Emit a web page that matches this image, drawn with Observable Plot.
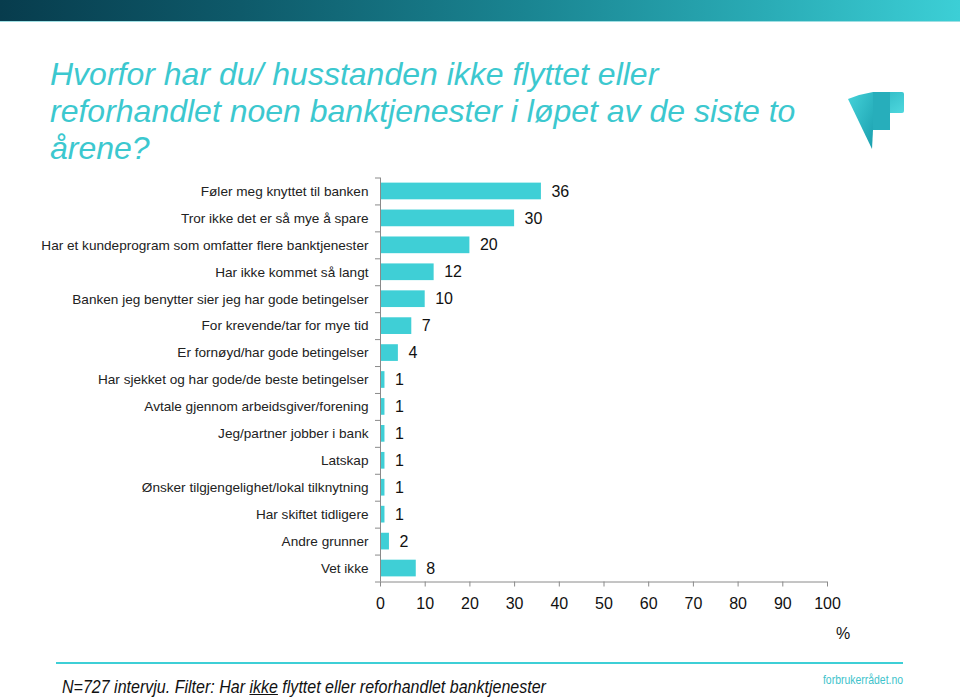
<!DOCTYPE html>
<html>
<head>
<meta charset="utf-8">
<script src="https://cdn.jsdelivr.net/npm/d3@7"></script>
<script src="https://cdn.jsdelivr.net/npm/@observablehq/plot@0.6"></script>
<style>
  html, body { margin: 0; padding: 0; background: #fff; }
  #page { position: relative; width: 960px; height: 699px; overflow: hidden; font-family: "Liberation Sans", Arial, sans-serif; }
  #topbar { position: absolute; left: 0; top: 0; width: 960px; height: 21px;
    background: linear-gradient(to right, #073c4d 0%, #0e5a6a 25%, #1a8592 55%, #2aacb6 80%, #3ccfd6 100%);
    border-bottom: 1px solid #9fdfe3; }
  #title { position: absolute; left: 50px; top: 56px; width: 840px; font-style: italic; font-size: 32px; line-height: 37px; color: #3cc8cf; white-space: nowrap; }
  #logo { position: absolute; left: 840px; top: 86px; }
  #chart { position: absolute; left: 0; top: 160px; }
  #pct { position: absolute; left: 836px; top: 625px; font-size: 16px; color: #111; }
  #rule { position: absolute; left: 56px; top: 662px; width: 847px; height: 2px; background: #3ecfd6; }
  #note { position: absolute; left: 62px; top: 677px; font-style: italic; font-size: 18px; color: #111; white-space: nowrap; transform: scaleX(0.89); transform-origin: left top; }
  #site { position: absolute; right: 57px; top: 673px; font-size: 12px; color: #3ec3cb; white-space: nowrap; transform: scaleX(0.87); transform-origin: right top; }
</style>
</head>
<body>
<div id="page">
  <div id="topbar"></div>
  <div id="title">Hvorfor har du/ husstanden ikke flyttet eller<br>reforhandlet noen banktjenester i løpet av de siste to<br>årene?</div>
  <svg id="logo" width="70" height="70" viewBox="0 0 70 70">
    <defs>
      <linearGradient id="lg1" x1="0" y1="0" x2="1" y2="1">
        <stop offset="0" stop-color="#45d3da"/>
        <stop offset="1" stop-color="#1a9fae"/>
      </linearGradient>
      <linearGradient id="lg2" x1="0" y1="0" x2="1" y2="1">
        <stop offset="0" stop-color="#2bb6c2"/>
        <stop offset="1" stop-color="#4fd8de"/>
      </linearGradient>
    </defs>
    <path d="M8,13 Q20,8 33,6 L33,44 L32,63 Z" fill="url(#lg1)"/>
    <rect x="33" y="6" width="31" height="21" rx="2" fill="url(#lg2)"/>
    <rect x="33" y="6" width="17" height="38" fill="#27aebb"/>
  </svg>
  <div id="chart"></div>
  <div id="pct">%</div>
  <div id="rule"></div>
  <div id="note">N=727 intervju. Filter: Har <span style="text-decoration: underline;">ikke</span> flyttet eller reforhandlet banktjenester</div>
  <div id="site">forbrukerrådet.no</div>
</div>
<script>
const categories = [
  "Føler meg knyttet til banken",
  "Tror ikke det er så mye å spare",
  "Har et kundeprogram som omfatter flere banktjenester",
  "Har ikke kommet så langt",
  "Banken jeg benytter sier jeg har gode betingelser",
  "For krevende/tar for mye tid",
  "Er fornøyd/har gode betingelser",
  "Har sjekket og har gode/de beste betingelser",
  "Avtale gjennom arbeidsgiver/forening",
  "Jeg/partner jobber i bank",
  "Latskap",
  "Ønsker tilgjengelighet/lokal tilknytning",
  "Har skiftet tidligere",
  "Andre grunner",
  "Vet ikke"
];
const values = [36, 30, 20, 12, 10, 7, 4, 1, 1, 1, 1, 1, 1, 2, 8];
const xTicks = [0, 10, 20, 30, 40, 50, 60, 70, 80, 90, 100];

const data = categories.map((c, i) => ({category: c, value: values[i], i}));
const boundaries = d3.range(categories.length + 1).map(k => k - 0.5);
const barHalf = 0.31;

const plot = Plot.plot({
  width: 960,
  height: 462,
  marginTop: 17.5,
  marginBottom: 40.5,
  marginLeft: 380,
  marginRight: 133,
  style: {fontFamily: "'Liberation Sans', Arial, sans-serif", color: "#111", background: "transparent"},
  x: {domain: [0, 100], axis: null},
  y: {domain: [-0.5, categories.length - 0.5], reverse: true, axis: null},
  marks: [
    Plot.rect(data, {x1: 0, x2: "value", y1: d => d.i - barHalf, y2: d => d.i + barHalf, fill: "#3fcfd6"}),
    Plot.ruleX([0], {stroke: "#8a8a8a", strokeWidth: 1}),
    Plot.ruleY([categories.length - 0.5], {stroke: "#8a8a8a", strokeWidth: 1}),
    Plot.axisY(boundaries, {tickSize: 5, stroke: "#8a8a8a", tickFormat: () => "", label: null}),
    Plot.axisX(xTicks, {tickSize: 5, tickPadding: 11, stroke: "#8a8a8a", fontSize: 16, fill: "#111", label: null, tickFormat: d => String(d)}),
    Plot.text(data, {x: 0, y: "i", text: "category", textAnchor: "end", dx: -12, fontSize: 13.6, fill: "#222"}),
    Plot.text(data, {x: "value", y: "i", text: d => String(d.value), textAnchor: "start", dx: 10, fontSize: 16, fill: "#111"})
  ]
});
document.getElementById("chart").appendChild(plot);
</script>
</body>
</html>
